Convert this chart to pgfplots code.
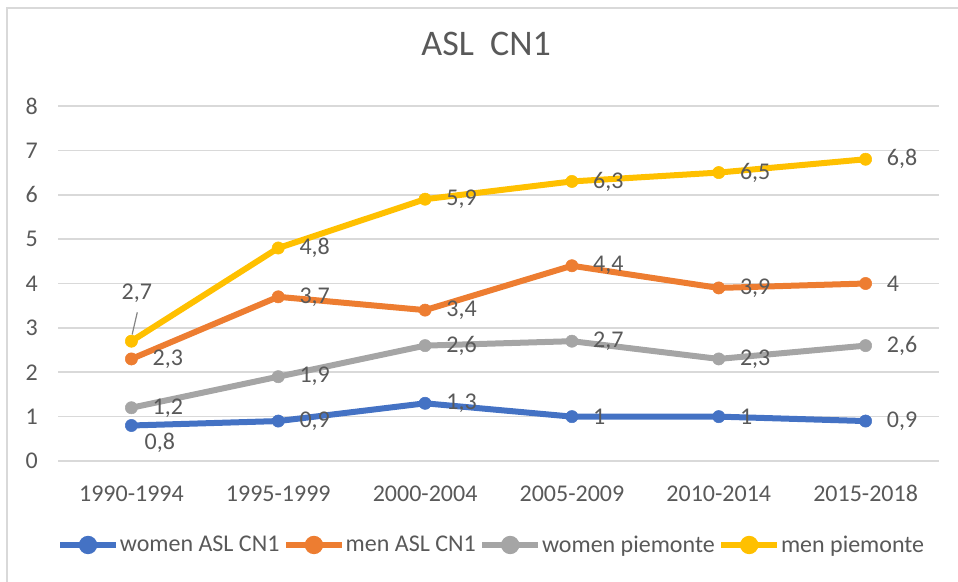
\documentclass[border=0pt]{standalone}
\usepackage{fontspec}
\setmainfont{Carlito}
\usepackage{pgfplots}
\usepackage{pgfplotstable}
\pgfplotsset{compat=1.18}
\definecolor{cBlue}{HTML}{4472C4}
\definecolor{cOrange}{HTML}{ED7D31}
\definecolor{cGray}{HTML}{A5A5A5}
\definecolor{cYellow}{HTML}{FFC000}
\definecolor{cText}{HTML}{595959}
\definecolor{cGrid}{HTML}{D9D9D9}

\pgfplotstableread{
x y lab dx dy
0 0.8 0,8 9.75 -12.75
1 0.9 0,9 15.75 0
2 1.3 1,3 15.75 0
3 1.0 1 15.75 0
4 1.0 1 15.75 0
5 0.9 0,9 15.75 0
}\womenasl
\pgfplotstableread{
x y lab dx dy
0 2.3 2,3 15.75 0
1 3.7 3,7 15.75 0
2 3.4 3,4 15.75 0
3 4.4 4,4 15.75 0
4 3.9 3,9 15.75 0
5 4.0 4 15.75 0
}\menasl
\pgfplotstableread{
x y lab dx dy
0 1.2 1,2 15.75 0
1 1.9 1,9 15.75 0
2 2.6 2,6 15.75 0
3 2.7 2,7 15.75 0
4 2.3 2,3 15.75 0
5 2.6 2,6 15.75 0
}\womenpie
\pgfplotstableread{
x y lab dx dy
0 2.7 2,7 -7.5 36
1 4.8 4,8 15.75 0
2 5.9 5,9 15.75 0
3 6.3 6,3 15.75 0
4 6.5 6,5 15.75 0
5 6.8 6,8 15.75 0
}\menpie

\begin{document}
\begin{tikzpicture}
\path[use as bounding box] (-43.5pt,345.75pt) rectangle (675pt,-90.75pt);
\draw[cGrid, line width=1.5pt] (-38.25pt,-95pt) -- (-38.25pt,339.75pt) -- (680pt,339.75pt);
\begin{axis}[
  at={(0pt,0pt)}, anchor=south west,
  scale only axis,
  width=660.75pt, height=266.25pt,
  xmin=-0.5, xmax=5.5, ymin=0, ymax=8,
  xtick={0,1,2,3,4,5},
  xticklabels={1990-1994,1995-1999,2000-2004,2005-2009,2010-2014,2015-2018},
  ytick={0,1,2,3,4,5,6,7,8},
  axis line style={draw=none},
  major tick length=0pt,
  ymajorgrids,
  grid style={cGrid, line width=1.3pt},
  /pgf/number format/assume math mode=true,
  tick label style={font=\fontsize{18pt}{21pt}\selectfont, text=cText, inner sep=0pt},
  yticklabel style={anchor=east, xshift=-15pt},
  xticklabel style={anchor=base, yshift=-30.4pt},
  title={ASL\ \ CN1},
  title style={at={(0.486,1)}, anchor=base, yshift=31.5pt, font=\fontsize{27pt}{32pt}\selectfont, text=cText},
  clip=false,
  every axis plot/.append style={line width=4.5pt, mark=*, mark size=4.6pt, mark options={solid, line width=0.4pt}},
  point meta=explicit symbolic,
  nodes near coords,
  visualization depends on={\thisrow{dx} \as \mydx},
  visualization depends on={\thisrow{dy} \as \mydy},
  nodes near coords style={anchor=west, inner sep=0pt, xshift=\mydx pt, yshift=\mydy pt, font=\fontsize{18pt}{21pt}\selectfont, text=cText},
  legend columns=4,
  legend style={at={(0.4915,-0.2366)}, anchor=center, draw=none, fill=none, inner sep=0pt,
    font=\fontsize{18pt}{21pt}\selectfont, text=cText,
    nodes={inner sep=0.6pt},
    /tikz/every even column/.append style={column sep=2pt}},
  legend image code/.code={
    \draw[#1, mark=none, line width=4.5pt] (0pt,0pt) -- (42pt,0pt);
    \fill[#1] (21pt,0pt) circle (4.6pt);
  },
]
\addplot[cBlue] table[x=x, y=y, meta=lab] {\womenasl};
\addlegendentry{women ASL CN1}
\addplot[cOrange] table[x=x, y=y, meta=lab] {\menasl};
\addlegendentry{men ASL CN1}
\addplot[cGray] table[x=x, y=y, meta=lab] {\womenpie};
\addlegendentry{women piemonte}
\addplot[cYellow] table[x=x, y=y, meta=lab] {\menpie};
\addlegendentry{men piemonte}
\draw[cGray!80!black, line width=0.9pt] (axis cs:0.04,3.35) -- (axis cs:0.005,2.85);
\end{axis}
\end{tikzpicture}
\end{document}
